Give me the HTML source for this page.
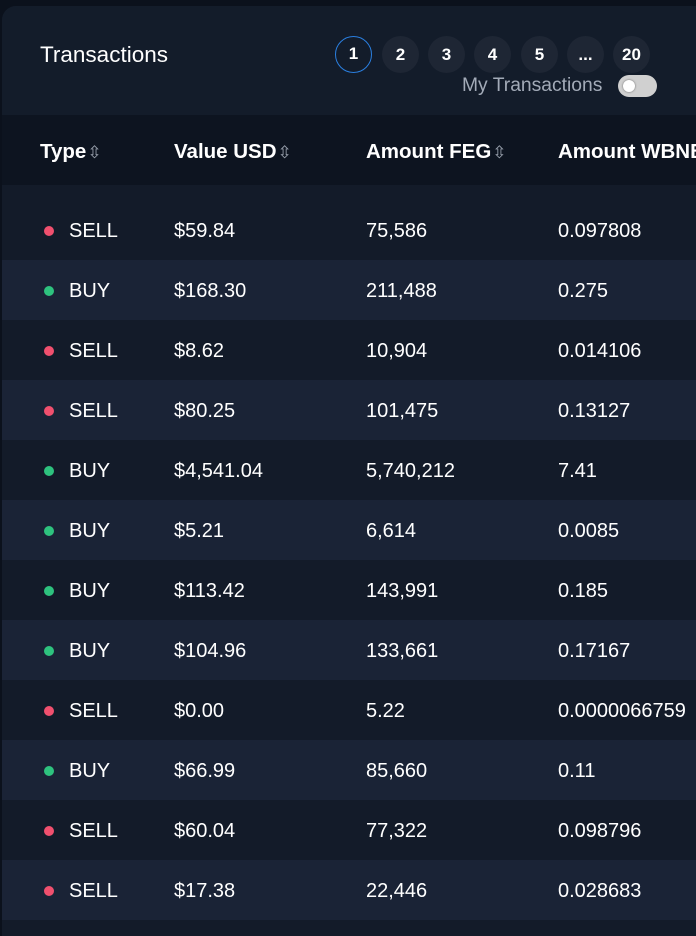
<!DOCTYPE html>
<html><head><meta charset="utf-8"><style>
*{margin:0;padding:0;box-sizing:border-box}
body{width:696px;height:930px;background:#0b111c;font-family:"Liberation Sans",sans-serif;color:#fff;position:relative;overflow:hidden}
.card{position:absolute;left:2px;top:6px;width:720px;height:930px;background:#131b29;border-radius:14px 0 0 0;overflow:hidden}
.head{position:absolute;left:0;top:0;width:100%;height:109px;background:#131c2a}
.title{position:absolute;left:38px;top:36px;font-size:22.5px}
.pg{position:absolute;top:30px;width:37px;height:37px;border-radius:50%;background:#1e2634;font-size:17px;font-weight:bold;text-align:center;line-height:37px}
.pg.act{background:#131c2a;border:1.5px solid #2a7fe0;line-height:34px}
.my{position:absolute;left:460px;top:69px;font-size:19.3px;color:#a3abb8}
.tog{position:absolute;left:616px;top:69px;width:39px;height:22px;border-radius:11px;background:#d0d0d0}
.tog::after{content:"";position:absolute;left:5px;top:5px;width:12px;height:12px;border-radius:50%;background:#fff;box-shadow:0 0 2px #666}
.th{position:absolute;left:0;top:109px;width:100%;height:70px;background:#0d1420}
.h{position:absolute;top:25px;font-size:20.5px;font-weight:bold;white-space:nowrap}
.s{color:#9aa2ae;font-size:17px;font-weight:normal;margin-left:1px}
.row{position:absolute;left:0;width:100%;height:60px;font-size:20px}
.row.alt{background:#1a2336}
.c{position:absolute;top:20px;white-space:nowrap}
.dot{position:absolute;left:42px;top:26px;width:10px;height:10px;border-radius:50%}
</style></head><body>
<div class="card">
<div class="head">
<div class="title">Transactions</div>
<div class="pg act" style="left:333px">1</div>
<div class="pg" style="left:380px">2</div>
<div class="pg" style="left:426px">3</div>
<div class="pg" style="left:472px">4</div>
<div class="pg" style="left:519px">5</div>
<div class="pg" style="left:565px">...</div>
<div class="pg" style="left:611px">20</div>
<div class="my">My Transactions</div>
<div class="tog"></div>
</div>
<div class="th">
<div class="h" style="left:38px">Type<span class="s">⇳</span></div>
<div class="h" style="left:172px">Value USD<span class="s">⇳</span></div>
<div class="h" style="left:364px">Amount FEG<span class="s">⇳</span></div>
<div class="h" style="left:556px">Amount WBNB</div>
</div>
<div id="rows"></div>
</div>
<script>
const types=["SELL","BUY","SELL","SELL","BUY","BUY","BUY","BUY","SELL","BUY","SELL","SELL"];
const usd=["$59.84","$168.30","$8.62","$80.25","$4,541.04","$5.21","$113.42","$104.96","$0.00","$66.99","$60.04","$17.38"];
const feg=["75,586","211,488","10,904","101,475","5,740,212","6,614","143,991","133,661","5.22","85,660","77,322","22,446"];
const wbnb=["0.097808","0.275","0.014106","0.13127","7.41","0.0085","0.185","0.17167","0.0000066759","0.11","0.098796","0.028683"];
const box=document.getElementById('rows');
types.forEach((t,i)=>{
const r=document.createElement('div');
r.className='row'+(i%2?' alt':'');
r.style.top=(194+i*60)+'px';


r.innerHTML='<div class="dot" style="background:'+(t==='BUY'?'#2ec27e':'#f0506e')+'"></div><div class="c" style="left:67px">'+t+'</div><div class="c" style="left:172px">'+usd[i]+'</div><div class="c" style="left:364px">'+feg[i]+'</div><div class="c" style="left:556px">'+wbnb[i]+'</div>';
box.appendChild(r);
});
</script>
</body></html>
